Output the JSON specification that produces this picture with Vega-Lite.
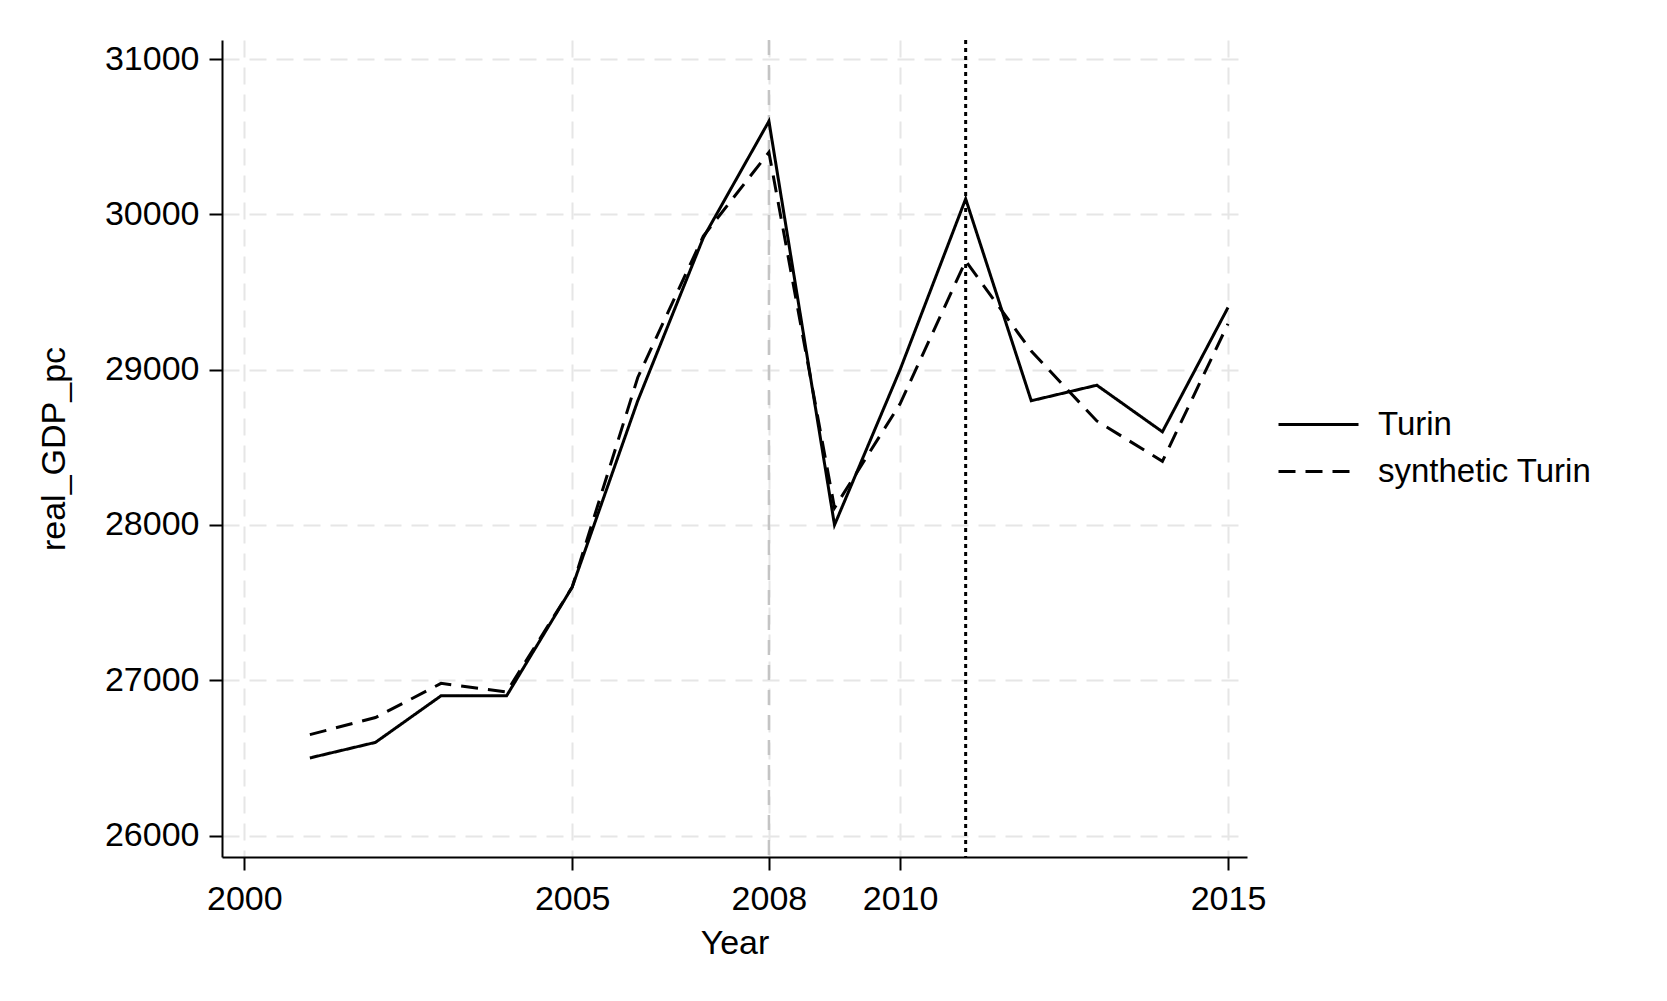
{
  "$schema": "https://vega.github.io/schema/vega-lite/v6.json",
  "width": 1025,
  "height": 817,
  "autosize": {"type": "none"},
  "padding": {"left": 222, "top": 40, "right": 420, "bottom": 144},
  "background": "white",
  "config": {
    "font": "Liberation Sans",
    "view": {"stroke": null},
    "axis": {
      "labelFont": "Liberation Sans",
      "titleFont": "Liberation Sans",
      "labelFontSize": 34,
      "titleFontSize": 34,
      "titleFontWeight": "normal",
      "labelColor": "black",
      "titleColor": "black",
      "domainColor": "black",
      "domainWidth": 2,
      "tickColor": "black",
      "tickWidth": 2,
      "tickSize": 13,
      "gridColor": "#e6e6e6",
      "gridWidth": 2,
      "gridDash": [17, 10]
    }
  },
  "data": {
    "values": [
      {"year": 2001, "series": "Turin", "gdp": 26500},
      {"year": 2002, "series": "Turin", "gdp": 26600},
      {"year": 2003, "series": "Turin", "gdp": 26900},
      {"year": 2004, "series": "Turin", "gdp": 26900},
      {"year": 2005, "series": "Turin", "gdp": 27600},
      {"year": 2006, "series": "Turin", "gdp": 28800},
      {"year": 2007, "series": "Turin", "gdp": 29850},
      {"year": 2008, "series": "Turin", "gdp": 30600},
      {"year": 2009, "series": "Turin", "gdp": 28000},
      {"year": 2010, "series": "Turin", "gdp": 29000},
      {"year": 2011, "series": "Turin", "gdp": 30100},
      {"year": 2012, "series": "Turin", "gdp": 28800},
      {"year": 2013, "series": "Turin", "gdp": 28900},
      {"year": 2014, "series": "Turin", "gdp": 28600},
      {"year": 2015, "series": "Turin", "gdp": 29400},
      {"year": 2001, "series": "synthetic Turin", "gdp": 26650},
      {"year": 2002, "series": "synthetic Turin", "gdp": 26760},
      {"year": 2003, "series": "synthetic Turin", "gdp": 26980},
      {"year": 2004, "series": "synthetic Turin", "gdp": 26925},
      {"year": 2005, "series": "synthetic Turin", "gdp": 27600},
      {"year": 2006, "series": "synthetic Turin", "gdp": 28950},
      {"year": 2007, "series": "synthetic Turin", "gdp": 29860},
      {"year": 2008, "series": "synthetic Turin", "gdp": 30400},
      {"year": 2009, "series": "synthetic Turin", "gdp": 28110},
      {"year": 2010, "series": "synthetic Turin", "gdp": 28780},
      {"year": 2011, "series": "synthetic Turin", "gdp": 29700},
      {"year": 2012, "series": "synthetic Turin", "gdp": 29120},
      {"year": 2013, "series": "synthetic Turin", "gdp": 28670},
      {"year": 2014, "series": "synthetic Turin", "gdp": 28410},
      {"year": 2015, "series": "synthetic Turin", "gdp": 29295}
    ]
  },
  "layer": [
    {
      "data": {"values": [{"year": 2008}]},
      "mark": {"type": "rule", "color": "#c4c4c4", "strokeWidth": 2.5, "strokeDash": [15, 10]},
      "encoding": {
        "x": {"field": "year", "type": "quantitative", "scale": {"domain": [1999.66, 2015.29], "nice": false, "zero": false}}
      }
    },
    {
      "data": {"values": [{"year": 2011}]},
      "mark": {"type": "rule", "color": "black", "strokeWidth": 3, "strokeDash": [4, 4]},
      "encoding": {
        "x": {"field": "year", "type": "quantitative"}
      }
    },
    {
      "mark": {"type": "line", "color": "black", "strokeWidth": 3},
      "encoding": {
        "x": {
          "field": "year",
          "type": "quantitative",
          "title": "Year",
          "scale": {"domain": [1999.66, 2015.29], "nice": false, "zero": false},
          "axis": {"values": [2000, 2005, 2008, 2010, 2015], "format": "d", "labelPadding": 12, "titlePadding": 10, "grid": true}
        },
        "y": {
          "field": "gdp",
          "type": "quantitative",
          "title": "real_GDP_pc",
          "scale": {"domain": [25862, 31123], "nice": false, "zero": false},
          "axis": {"values": [26000, 27000, 28000, 29000, 30000, 31000], "format": "d", "labelPadding": 10, "titlePadding": 33, "grid": true}
        },
        "strokeDash": {
          "field": "series",
          "type": "nominal",
          "title": null,
          "scale": {"domain": ["Turin", "synthetic Turin"], "range": [[1, 0], [17, 10]]},
          "legend": {
            "orient": "none",
            "legendX": 1055,
            "legendY": 361,
            "padding": 0,
            "symbolType": "stroke",
            "symbolSize": 6400,
            "symbolStrokeWidth": 3,
            "symbolStrokeColor": "black",
            "labelFont": "Liberation Sans",
            "labelFontSize": 33,
            "labelColor": "black",
            "labelOffset": 18,
            "clipHeight": 47,
            "rowPadding": 0,
            "labelLimit": 400
          }
        }
      }
    }
  ]
}
